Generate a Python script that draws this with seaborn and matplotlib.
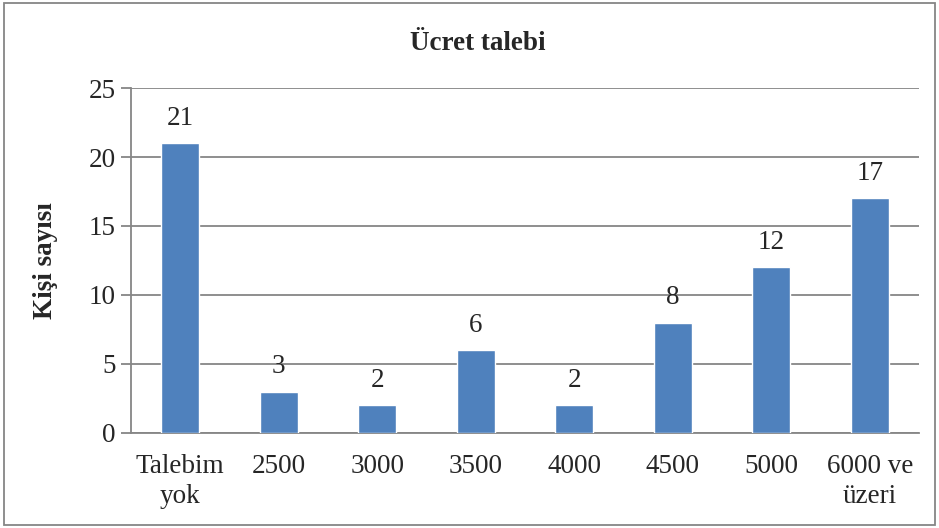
import matplotlib
matplotlib.use('Agg')
import matplotlib.pyplot as plt
import seaborn as sns
import numpy as np
from matplotlib.patches import Rectangle

categories = ['Talebim\nyok', '2500', '3000', '3500', '4000', '4500', '5000', '6000 ve\nüzeri']
counts = [21, 3, 2, 6, 2, 8, 12, 17]

sns.set_style('white')
plt.rcParams['font.family'] = ['Liberation Serif', 'DejaVu Serif']

fs = 19.5
fig = plt.figure(figsize=(9.39, 5.28), dpi=100)
ax = fig.add_axes([0.1395, 0.18, 0.8392, 0.6533])

sns.barplot(x=categories, y=counts, color='#4F81BD', saturation=1, width=0.39, ax=ax, zorder=3)

ax.set_ylim(0, 25)
ax.set_xlim(-0.5, len(categories) - 0.5)
ax.set_yticks(range(0, 26, 5))
ax.yaxis.grid(True, color='#868686', linewidth=1.3, zorder=0)
ax.set_axisbelow(True)

for s in ['top', 'right']:
    ax.spines[s].set_visible(False)
for s in ['left', 'bottom']:
    ax.spines[s].set_color('#868686')
    ax.spines[s].set_linewidth(1.3)

ax.set_xticks(np.arange(-0.5, len(categories), 1.0), minor=True)
ax.tick_params(axis='x', which='major', length=0, pad=15, labelsize=fs)
ax.tick_params(axis='x', which='minor', length=8, width=1.3, color='#868686', direction='out')
ax.tick_params(axis='y', length=7, width=1.3, color='#868686', direction='out', labelsize=fs, pad=4, left=True)
for lab in ax.get_xticklabels():
    lab.set_linespacing(1.3)

for i, v in enumerate(counts):
    ax.text(i, v + 0.9, str(v), ha='center', va='bottom', fontsize=fs)

ax.set_xlabel('')
ax.set_ylabel('Kişi sayısı', fontsize=fs, fontweight='bold', labelpad=22)
fig.text(0.509, 0.918, 'Ücret talebi', ha='center', va='center', fontsize=fs, fontweight='bold')

fig.patches.append(Rectangle((0.004, 0.006), 0.992, 0.988, transform=fig.transFigure,
                             fill=False, edgecolor='#868686', linewidth=1.3))

fig.savefig('out.png', dpi=100)
